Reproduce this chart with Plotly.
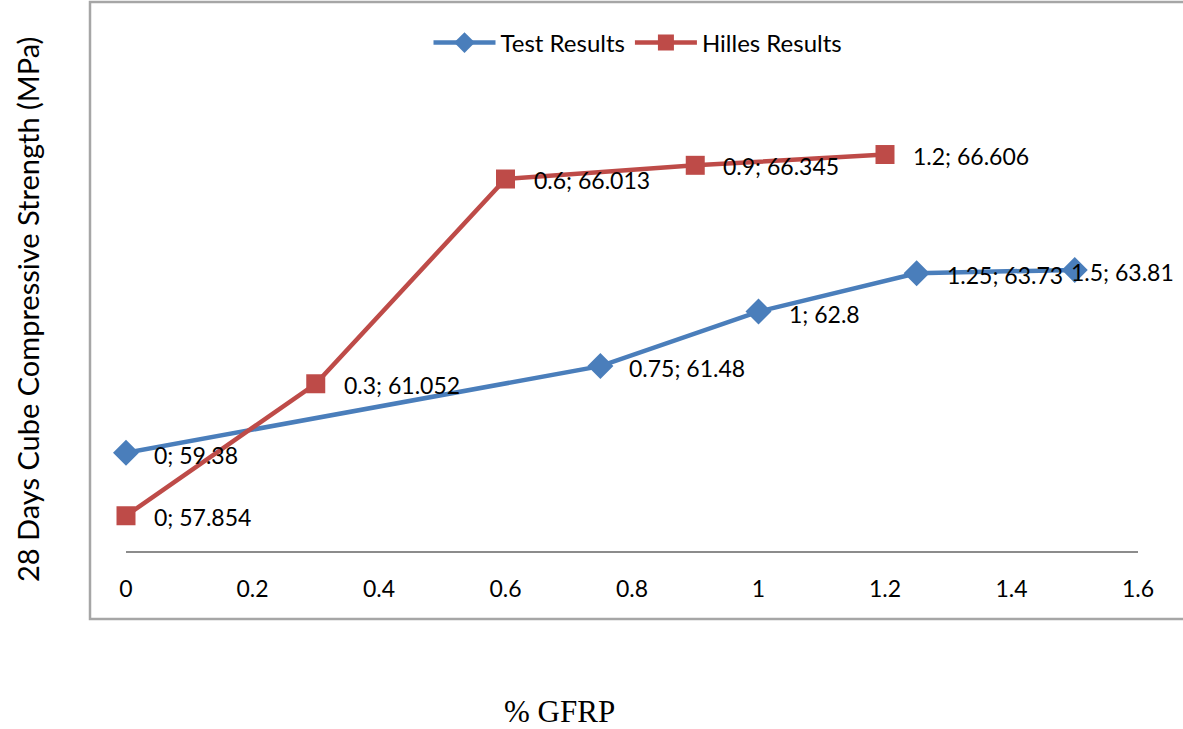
import plotly.graph_objects as go

# Data
test_x = [0, 0.75, 1, 1.25, 1.5]
test_y = [59.38, 61.48, 62.8, 63.73, 63.81]
hilles_x = [0, 0.3, 0.6, 0.9, 1.2]
hilles_y = [57.854, 61.052, 66.013, 66.345, 66.606]
x_ticks = [0, 0.2, 0.4, 0.6, 0.8, 1, 1.2, 1.4, 1.6]
series_names = ["Test Results", "Hilles Results"]

BLUE = "#4a7ebb"
RED = "#be4b48"
FONT = "Lato"

fig = go.Figure()
fig.add_trace(go.Scatter(x=test_x, y=test_y, mode="lines+markers", name=series_names[0],
                         line=dict(color=BLUE, width=4.5), cliponaxis=False,
                         marker=dict(symbol="diamond", size=20, color=BLUE)))
fig.add_trace(go.Scatter(x=hilles_x, y=hilles_y, mode="lines+markers", name=series_names[1],
                         line=dict(color=RED, width=4.5), cliponaxis=False,
                         marker=dict(symbol="square", size=19, color=RED)))

def lab(x, y):
    return f"{x:g}; {y}"

annos = []
test_shift = [26, 27, 28, 28, -6]
for (x, y), s in zip(zip(test_x, test_y), test_shift):
    annos.append(dict(x=x, y=y, text=lab(x, y), showarrow=False, xanchor="left",
                      yanchor="middle", xshift=s, yshift=-2,
                      font=dict(family=FONT, size=23, color="black")))
for x, y in zip(hilles_x, hilles_y):
    annos.append(dict(x=x, y=y, text=lab(x, y), showarrow=False, xanchor="left",
                      yanchor="middle", xshift=26, yshift=-1,
                      font=dict(family=FONT, size=23, color="black")))

PW = 1012.0
PH = 454.0
annos.append(dict(xref="paper", yref="paper", x=(27 - 126) / PW, y=(551 - 310) / PH,
                  text="28 Days Cube Compressive Strength (MPa)", textangle=-90,
                  showarrow=False, xanchor="center", yanchor="middle",
                  font=dict(family=FONT, size=29, color="black")))
annos.append(dict(xref="paper", yref="paper", x=(559 - 126) / PW, y=(551 - 711) / PH,
                  text="% GFRP", showarrow=False, xanchor="center", yanchor="middle",
                  font=dict(family="Liberation Serif", size=31, color="black")))

fig.update_layout(
    width=1183, height=729,
    margin=dict(l=126, r=45, t=97, b=178),
    paper_bgcolor="white", plot_bgcolor="white",
    showlegend=True,
    legend=dict(orientation="h", x=(638 - 126) / PW, y=(551 - 43) / PH,
                xanchor="center", yanchor="middle", itemwidth=62,
                font=dict(family=FONT, size=24, color="black"),
                bgcolor="rgba(0,0,0,0)"),
    annotations=annos,
    shapes=[dict(type="rect", xref="paper", yref="paper",
                 x0=(90 - 126) / PW, x1=(1200 - 126) / PW,
                 y0=(551 - 619) / PH, y1=(551 - 2) / PH,
                 line=dict(color="#a6a6a6", width=2.5), layer="below")],
)
fig.update_xaxes(range=[0, 1.6], tickvals=x_ticks, ticktext=[f"{t:g}" for t in x_ticks],
                 showline=True, linecolor="#8c8c8c", linewidth=1.5, showgrid=False,
                 zeroline=False, ticks="", ticklabelstandoff=17,
                 tickfont=dict(family=FONT, size=23, color="black"))
fig.update_yaxes(range=[57, 68], showline=False, showgrid=False, zeroline=False,
                 showticklabels=False, ticks="")

fig.write_html("out.html")
